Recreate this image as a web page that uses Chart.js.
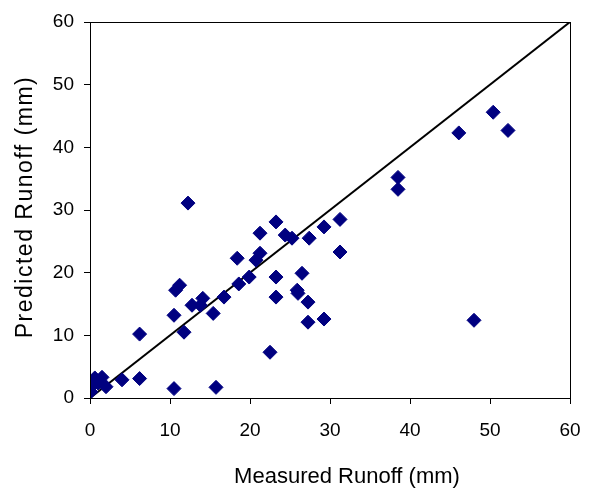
<!DOCTYPE html>
<html>
<head>
<meta charset="utf-8">
<script src="https://cdn.jsdelivr.net/npm/chart.js@4/dist/chart.umd.min.js"></script>
<style>
html,body{margin:0;padding:0;background:#fff;}
#wrap{width:590px;height:488px;}
</style>
</head>
<body>
<div id="wrap"><canvas id="c" width="590" height="488"></canvas></div>
<script>
const measured = [0.1,0.3,0.6,1.0,1.5,2.0,4.0,6.2,6.2,10.5,10.5,10.7,11.2,11.75,12.25,12.75,13.8,14.1,15.4,15.75,16.75,18.4,18.6,19.9,20.75,21.25,21.25,22.5,23.25,23.25,23.25,24.4,25.25,25.9,26.0,26.5,27.25,27.25,27.4,29.25,29.25,31.25,31.25,38.5,38.5,46.1,48.0,50.4,52.25];
const predicted = [1.0,2.0,3.2,2.4,3.3,1.8,2.9,3.1,10.2,13.2,1.5,17.2,18.0,10.5,31.1,14.8,14.8,15.9,13.5,1.7,16.1,22.3,18.2,19.3,22.0,23.1,26.3,7.3,28.1,19.3,16.1,26.0,25.5,17.2,16.7,19.9,15.3,12.1,25.5,27.3,12.6,28.5,23.3,35.2,33.3,42.3,12.4,45.6,42.7];
const lineX = [0,60];
const lineY = [0,60];
const ticks = [0,10,20,30,40,50,60];
const xTitle = 'Measured Runoff (mm)';
const yTitle = 'Predicted Runoff (mm)';

const pts = measured.map((x,i)=>({x:x,y:predicted[i]}));
const linePts = lineX.map((x,i)=>({x:x,y:lineY[i]}));

const frame = {
  id:'frame',
  afterDatasetsDraw(chart){
    const a = chart.chartArea, ctx = chart.ctx;
    ctx.save();
    ctx.strokeStyle = '#000';
    ctx.lineWidth = 1;
    ctx.strokeRect(Math.round(a.left)+0.5, Math.round(a.top)+0.5, Math.round(a.right-a.left), Math.round(a.bottom-a.top));
    ctx.restore();
  },
  afterDraw(chart){
    const ctx = chart.ctx;
    ctx.save();
    ctx.fillStyle = '#000';
    ctx.font = '22px "Liberation Sans"';
    ctx.textAlign = 'center';
    ctx.textBaseline = 'alphabetic';
    ctx.fillText(xTitle, 347, 483);
    ctx.translate(32, 207);
    ctx.rotate(-Math.PI/2);
    ctx.font = '23px "Liberation Sans"';
    try { ctx.letterSpacing = '1.5px'; } catch(e) {}
    ctx.fillText(yTitle, 0, 0);
    ctx.restore();
  }
};

new Chart(document.getElementById('c'), {
  type:'scatter',
  data:{
    datasets:[
      {type:'line', data:linePts, borderColor:'#000', borderWidth:2, pointRadius:0, fill:false, order:2},
      {data:pts, pointStyle:'rectRot', pointRadius:7, pointBackgroundColor:'#000080', pointBorderColor:'#000080', pointBorderWidth:1, order:1}
    ]
  },
  options:{
    responsive:false,
    animation:false,
    layout:{autoPadding:false, padding:{left:0,right:20,top:22,bottom:0}},
    plugins:{legend:{display:false},tooltip:{enabled:false}},
    scales:{
      x:{
        type:'linear', min:0, max:60,
        afterBuildTicks(s){ s.ticks = ticks.map(v=>({value:v})); },
        afterFit(s){ s.height = 90; s.paddingLeft = 0; s.paddingRight = 0; },
        grid:{drawOnChartArea:false, drawTicks:true, tickLength:6, color:'#000'},
        border:{display:true,color:'#000',width:1},
        ticks:{color:'#000', font:{family:'Liberation Sans', size:19}, padding:15, maxRotation:0},
        title:{display:false}
      },
      y:{
        type:'linear', min:0, max:60,
        afterBuildTicks(s){ s.ticks = ticks.map(v=>({value:v})); },
        afterFit(s){ s.width = 90; s.paddingTop = 0; s.paddingBottom = 0; },
        grid:{drawOnChartArea:false, drawTicks:true, tickLength:6, color:'#000'},
        border:{display:true,color:'#000',width:1},
        ticks:{color:'#000', font:{family:'Liberation Sans', size:19}, padding:10},
        title:{display:false}
      }
    }
  },
  plugins:[frame]
});
</script>
</body>
</html>
